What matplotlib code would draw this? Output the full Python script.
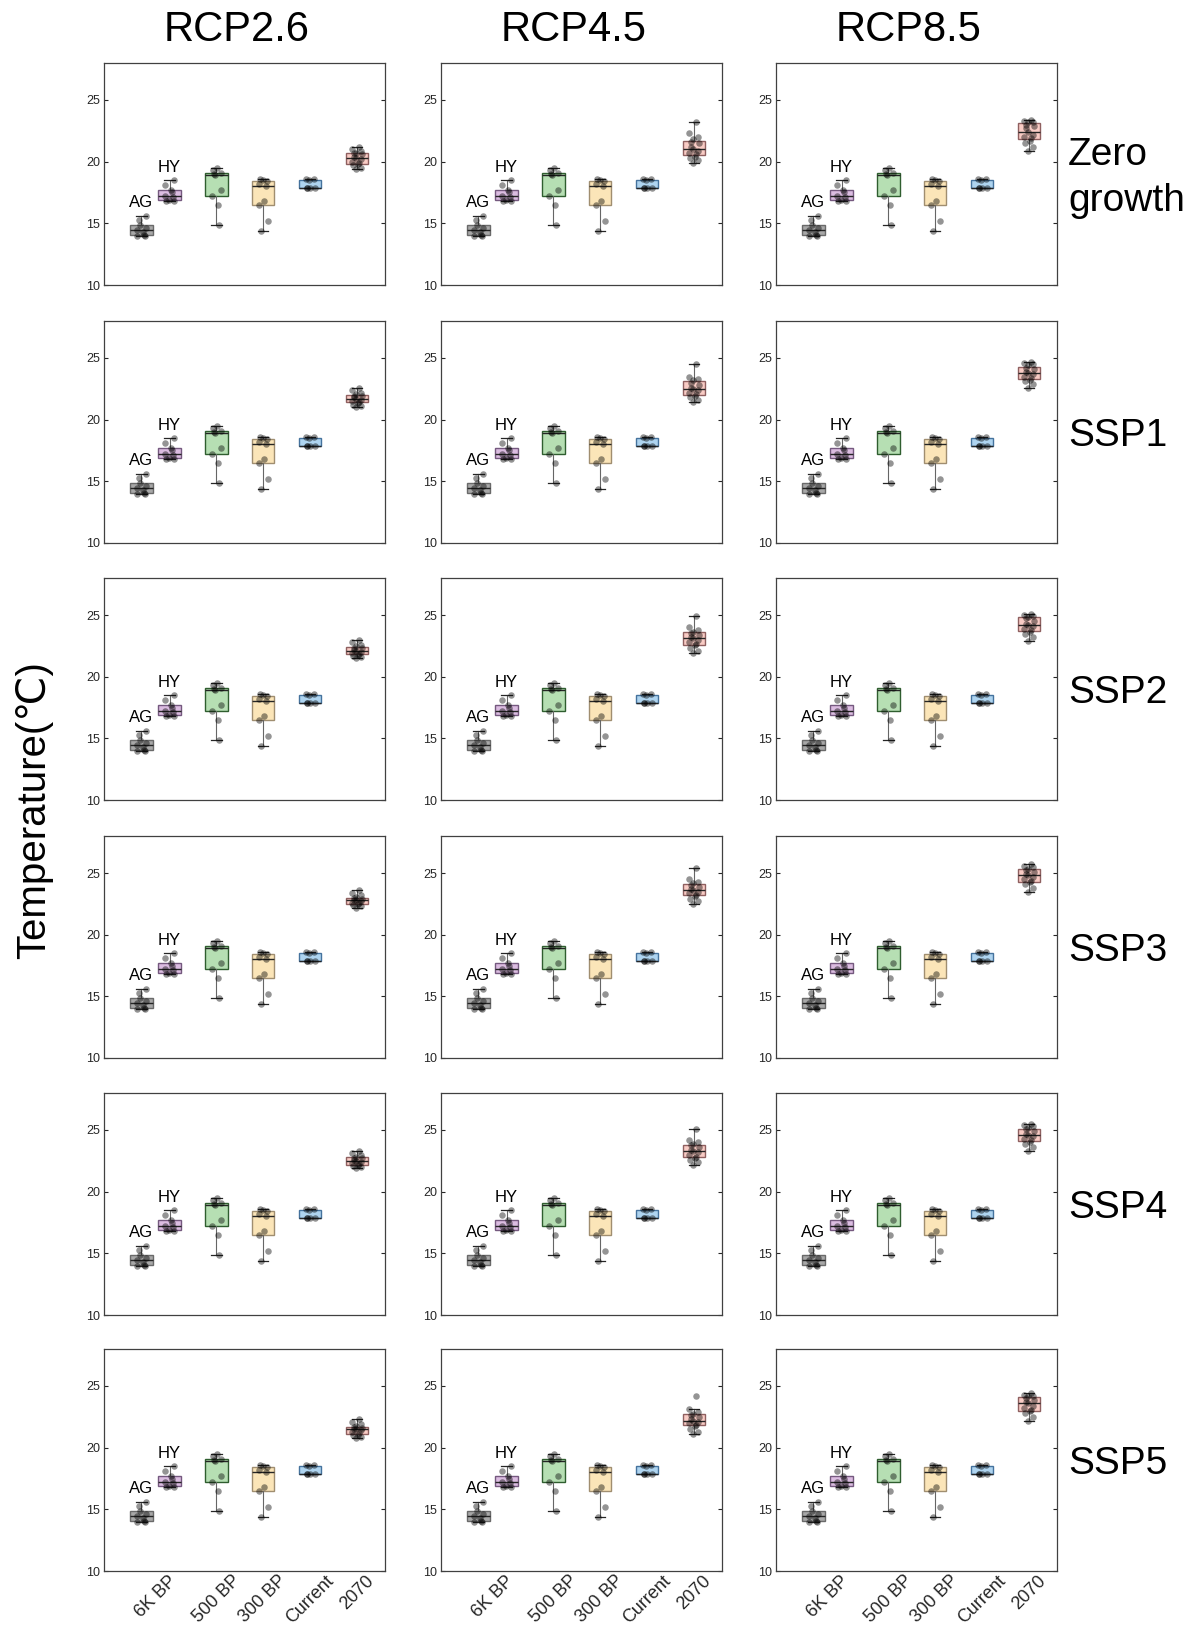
import numpy as np
import matplotlib
matplotlib.use('Agg')
import matplotlib.pyplot as plt

plt.rcParams['font.family'] = ['Liberation Sans', 'DejaVu Sans']

# scenario names
rcp_names = ['RCP2.6', 'RCP4.5', 'RCP8.5']
ssp_names = ['Zero\ngrowth', 'SSP1', 'SSP2', 'SSP3', 'SSP4', 'SSP5']
tick_names = ['6K BP', '500 BP', '300 BP', 'Current', '2070']

# historical samples (same in every panel)
ag_pts = [15.6, 15.3, 14.85, 14.6, 14.45, 14.3, 14.05, 14.0, 14.0]
hy_pts = [18.5, 18.1, 17.7, 17.5, 17.2, 17.1, 16.9, 16.85, 16.8]
bp500_pts = [19.5, 19.3, 19.1, 19.0, 18.9, 17.7, 17.2, 16.5, 14.9]
bp300_pts = [18.6, 18.5, 18.45, 18.2, 18.05, 16.8, 16.5, 15.2, 14.4]
current_pts = [18.6, 18.6, 18.5, 17.9, 17.9, 17.9, 17.9]

# 2070 samples, one list per RCP (2.6, 4.5, 8.5)
zero_2070 = [
    [19.4, 19.5, 19.7, 19.8, 19.9, 20.0, 20.2, 20.3, 20.4, 20.6, 20.7, 20.7, 20.9, 21.0, 21.2],
    [19.9, 20.1, 20.3, 20.4, 20.6, 20.7, 20.9, 21.0, 21.2, 21.5, 21.6, 21.8, 22.0, 22.3, 23.2],
    [20.9, 21.2, 21.5, 21.7, 21.9, 22.0, 22.2, 22.4, 22.7, 22.9, 23.0, 23.2, 23.2, 23.3, 23.4],
]
ssp1_2070 = [
    [21.0, 21.1, 21.2, 21.35, 21.45, 21.5, 21.6, 21.7, 21.8, 21.9, 21.95, 22.05, 22.2, 22.4, 22.6],
    [21.4, 21.6, 21.8, 21.95, 22.05, 22.2, 22.4, 22.5, 22.6, 22.8, 23.0, 23.2, 23.3, 23.5, 24.5],
    [22.6, 22.9, 23.1, 23.25, 23.35, 23.5, 23.7, 23.8, 23.9, 24.1, 24.2, 24.4, 24.5, 24.6, 24.7],
]
ssp2_2070 = [
    [21.5, 21.6, 21.7, 21.75, 21.85, 21.9, 22.0, 22.1, 22.2, 22.3, 22.35, 22.45, 22.6, 22.8, 23.0],
    [21.9, 22.1, 22.3, 22.55, 22.65, 22.8, 23.0, 23.1, 23.2, 23.4, 23.55, 23.65, 23.8, 24.0, 24.9],
    [22.9, 23.2, 23.5, 23.65, 23.75, 23.9, 24.1, 24.2, 24.3, 24.5, 24.75, 24.85, 24.9, 25.0, 25.1],
]
ssp3_2070 = [
    [22.2, 22.3, 22.4, 22.45, 22.55, 22.6, 22.7, 22.8, 22.85, 22.9, 22.95, 23.05, 23.2, 23.4, 23.6],
    [22.5, 22.7, 22.9, 23.15, 23.25, 23.4, 23.5, 23.6, 23.7, 23.9, 24.05, 24.15, 24.3, 24.5, 25.4],
    [23.5, 23.8, 24.1, 24.25, 24.35, 24.5, 24.7, 24.8, 24.9, 25.1, 25.25, 25.35, 25.5, 25.6, 25.7],
]
ssp4_2070 = [
    [21.9, 22.0, 22.1, 22.15, 22.25, 22.3, 22.4, 22.5, 22.6, 22.7, 22.75, 22.85, 23.0, 23.1, 23.3],
    [22.2, 22.4, 22.6, 22.75, 22.85, 23.0, 23.2, 23.3, 23.4, 23.6, 23.75, 23.85, 24.0, 24.2, 25.1],
    [23.3, 23.6, 23.9, 24.05, 24.15, 24.3, 24.5, 24.6, 24.7, 24.9, 25.05, 25.15, 25.3, 25.4, 25.5],
]
ssp5_2070 = [
    [20.8, 20.9, 21.0, 21.05, 21.15, 21.3, 21.4, 21.5, 21.55, 21.6, 21.65, 21.75, 21.9, 22.1, 22.3],
    [21.1, 21.3, 21.5, 21.75, 21.85, 22.0, 22.1, 22.2, 22.3, 22.5, 22.65, 22.75, 22.9, 23.1, 24.2],
    [22.2, 22.5, 22.8, 22.95, 23.05, 23.2, 23.4, 23.6, 23.7, 23.9, 24.05, 24.15, 24.2, 24.3, 24.4],
]
future_rows = [zero_2070, ssp1_2070, ssp2_2070, ssp3_2070, ssp4_2070, ssp5_2070]

# styling
positions = [1.4, 2.0, 3, 4, 5, 6]
tick_pos = [1.7, 3, 4, 5, 6]
face_cols = ['#a8a8a8', '#dbbce1', '#b6dfb3', '#fbe5b8', '#aed4f0', '#f9ccc5']
edge_cols = ['#6a6a6a', '#75597f', '#2f5e2f', '#a08e70', '#45739e', '#8f6060']
ink = '#262626'

W, H = 1195, 1629
fig = plt.figure(figsize=(W / 100, H / 100), dpi=100)

col_left = [104, 441, 776]
row_top = [63, 321, 578, 836, 1093, 1349]
ax_w, ax_h = 281, 222

for r in range(6):
    for c in range(3):
        ax = fig.add_axes([col_left[c] / W, 1 - (row_top[r] + ax_h) / H, ax_w / W, ax_h / H])
        groups = [ag_pts, hy_pts, bp500_pts, bp300_pts, current_pts, future_rows[r][c]]
        bp = ax.boxplot(groups, positions=positions, widths=0.48, patch_artist=True,
                        showfliers=False, whis=1.5, capwidths=0.22,
                        medianprops=dict(color=ink, linewidth=1.0),
                        whiskerprops=dict(color='#666666', linewidth=0.8),
                        capprops=dict(color=ink, linewidth=0.9))
        for patch, fc, ec in zip(bp['boxes'], face_cols, edge_cols):
            patch.set_facecolor(fc)
            patch.set_edgecolor(ec)
            patch.set_linewidth(1.0)
        # jittered sample points
        for pos, pts in zip(positions, groups):
            n = len(pts)
            jit = 0.1 * np.sin(np.arange(n) * 2.3 + pos)
            ax.scatter(pos + jit, pts, s=22, color='black', alpha=0.42, linewidths=0, zorder=3)

        ax.text(positions[0], 16.1, 'AG', ha='center', va='bottom', fontsize=12)
        ax.text(positions[1], 18.9, 'HY', ha='center', va='bottom', fontsize=12)

        ax.set_xlim(0.6, 6.6)
        ax.set_ylim(10, 28)
        ax.set_yticks([10, 15, 20, 25])
        ax.tick_params(axis='y', direction='in', length=3, width=0.8, colors=ink,
                       labelsize=9, right=True, left=True, pad=3)
        ax.set_xticks(tick_pos)
        if r == 5:
            ax.set_xticklabels(tick_names, rotation=45, fontsize=13, color=ink)
            ax.tick_params(axis='x', length=0, pad=1)
        else:
            ax.set_xticklabels([])
            ax.tick_params(axis='x', length=0)
        for sp in ax.spines.values():
            sp.set_color('#404040')
            sp.set_linewidth(0.9)

for c in range(3):
    cx = (col_left[c] + ax_w / 2 - 8) / W
    fig.text(cx, 1 - 30 / H, rcp_names[c], ha='center', va='center', fontsize=30)

for r in range(6):
    cy = 1 - (row_top[r] + ax_h / 2 + 4) / H
    fig.text(1068 / W, cy, ssp_names[r], ha='left', va='center', fontsize=28, linespacing=1.35)

fig.text(34 / W, 1 - 810 / H, 'Temperature(℃)', rotation=90, ha='center', va='center', fontsize=29)

fig.savefig('out.png', dpi=100)
